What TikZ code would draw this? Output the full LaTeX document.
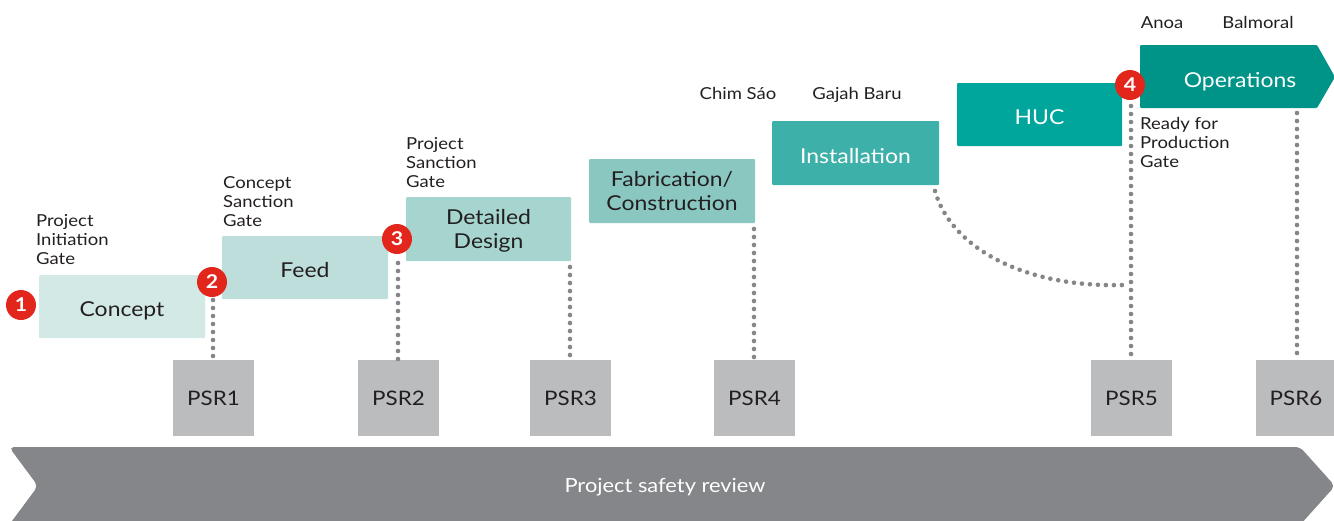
\documentclass[tikz,border=0pt]{standalone}
\usepackage{fontspec}
\setmainfont{Lato}[FakeStretch=1.12]
\usetikzlibrary{calc}

\definecolor{ink}{HTML}{231F20}
\definecolor{phaseA}{HTML}{D3E9E6}
\definecolor{phaseB}{HTML}{BDDEDB}
\definecolor{phaseC}{HTML}{A6D5D0}
\definecolor{phaseD}{HTML}{89C7C0}
\definecolor{phaseE}{HTML}{3DB0A9}
\definecolor{phaseF}{HTML}{00A59C}
\definecolor{phaseG}{HTML}{009387}
\definecolor{gatered}{HTML}{E2261C}
\definecolor{psrgray}{HTML}{BBBCBE}
\definecolor{bannergray}{HTML}{858689}
\definecolor{dotgray}{HTML}{858689}

\begin{document}
\begin{tikzpicture}[x=1pt,y=-1pt,
  phase/.style={rectangle, rounded corners=1pt, inner sep=0pt,
    minimum width=166, minimum height=63, align=center, text=ink,
    font=\fontsize{20.5}{24}\selectfont, text height=20, text depth=0},
  phasetwo/.style={phase, text height=, text depth=0},
  psrbox/.style={rectangle, fill=psrgray, inner sep=0pt,
    minimum width=81, minimum height=76, text=ink,
    font=\fontsize{20}{22}\selectfont},
  gatebadge/.style={circle, fill=gatered, inner sep=0pt, minimum size=30,
    text=white, font=\bfseries\fontsize{19}{19}\selectfont},
  gatelabel/.style={anchor=north west, inner sep=0pt, align=left, text=ink,
    font=\fontsize{16.5}{19}\selectfont},
  sitelabel/.style={anchor=base, inner sep=0pt, text=ink,
    font=\fontsize{16.5}{19}\selectfont},
  dots/.style={draw=dotgray, line width=4.6pt, line cap=round,
    dash pattern=on 0pt off 8pt}]
\useasboundingbox (0,0) rectangle (1334,520);
\clip (0,0) rectangle (1334,520);

% review banner along the bottom
\fill[bannergray, rounded corners=5pt]
  (9,447) -- (1300,447) -- (1335,486) -- (1300,525) -- (9,525) -- (38,486) -- cycle;
\node[text=white, font=\fontsize{19.5}{24}\selectfont] (review) at (665,487) {Project safety review};

% project phases
\node[phase, fill=phaseA] (concept) at (122,306.5) {Concept};
\node[phase, fill=phaseB] (feed) at (305,267.5) {Feed};
\node[phasetwo, fill=phaseC, minimum width=165, minimum height=64] (design) at (488.5,229) {Detailed\\Design};
\node[phasetwo, fill=phaseD, minimum height=64] (fab) at (672,191) {Fabrication/\\Construction};
\node[phase, fill=phaseE, text=white, minimum width=167, minimum height=64] (install) at (855.5,153) {Installation};
\node[phase, fill=phaseF, text=white, minimum width=165] (huc) at (1039.5,114.5) {HUC};
\fill[phaseG, rounded corners=1pt]
  (1140,45) -- (1317,45) -- (1335,77) -- (1317,108) -- (1140,108) -- cycle;
\node[phase, text=white, minimum width=10, minimum height=10] (ops) at (1240,77.5) {Operations};

% safety review boxes
\node[psrbox] (psr1) at (213.5,398) {PSR1};
\node[psrbox] (psr2) at (398.5,398) {PSR2};
\node[psrbox] (psr3) at (570.5,398) {PSR3};
\node[psrbox] (psr4) at (754.5,398) {PSR4};
\node[psrbox] (psr5) at (1131.5,398) {PSR5};
\node[psrbox] (psr6) at (1296,398) {PSR6};

% dotted links from each phase down to its review
\coordinate (d1) at (213,300);
\coordinate (d2) at (398,263);
\coordinate (d3) at (570,267);
\coordinate (d4) at (754,229);
\coordinate (d5) at (1131,106);
\coordinate (d6) at (1297,113);
\coordinate (c0) at (935,191);
\coordinate (c1) at (1124,285);
\draw[dots] (d1) -- (d1 |- psr1.north);
\draw[dots] (d2) -- (d2 |- psr2.north);
\draw[dots] (d3) -- (d3 |- psr3.north);
\draw[dots] (d4) -- (d4 |- psr4.north);
\draw[dots] (d5) -- (d5 |- psr5.north);
\draw[dots] (d6) -- (d6 |- psr6.north);
\draw[dots] (c0) .. controls (950,245) and (1020,288) .. (c1);

% gates
\node[gatebadge] (g1) at (21,305) {1};
\node[gatebadge] (g2) at (212,282) {2};
\node[gatebadge] (g3) at (397,239) {3};
\node[gatebadge] (g4) at (1130,85) {4};

\node[gatelabel] (l1) at (36,214) {Project\\Initiation\\Gate};
\node[gatelabel] (l2) at (223,176) {Concept\\Sanction\\Gate};
\node[gatelabel] (l3) at (406,137) {Project\\Sanction\\Gate};
\node[gatelabel] (l4) at (1140,117) {Ready for\\Production\\Gate};

% field names
\node[sitelabel] (chim) at (738,99) {Chim Sáo};
\node[sitelabel] (gajah) at (857,99) {Gajah Baru};
\node[sitelabel] (anoa) at (1162,28) {Anoa};
\node[sitelabel] (balmoral) at (1258,28) {Balmoral};
\end{tikzpicture}
\end{document}
